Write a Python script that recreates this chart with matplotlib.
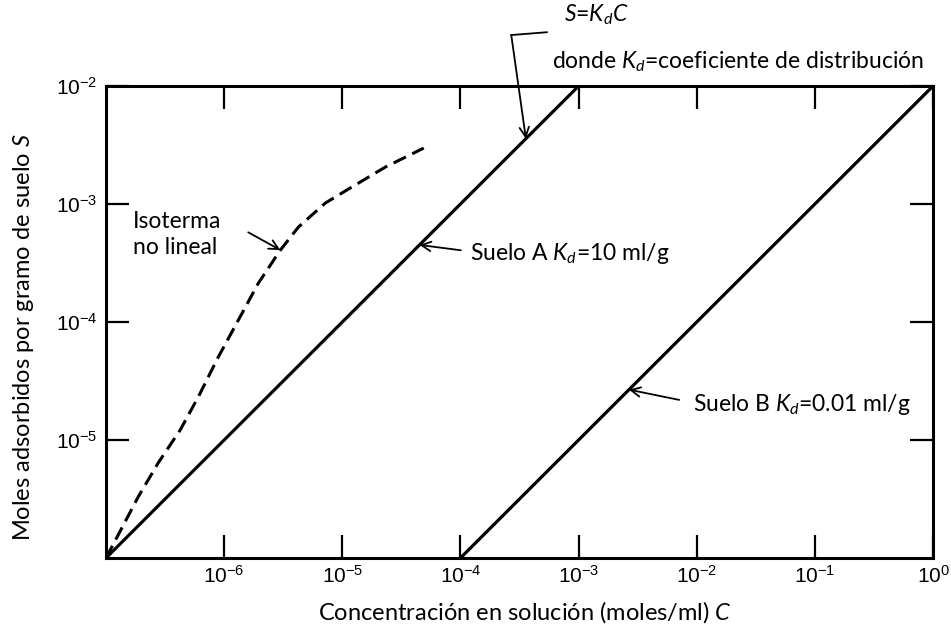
import numpy as np
import matplotlib
matplotlib.use('Agg')
import matplotlib.pyplot as plt

plt.rcParams['font.family'] = ['Lato', 'DejaVu Sans']
plt.rcParams['mathtext.fontset'] = 'custom'
plt.rcParams['mathtext.rm'] = 'Liberation Sans'
plt.rcParams['mathtext.it'] = 'Lato:italic'

# Isotermas lineales S = Kd * C
kd_a = 10.0      # ml/g
kd_b = 0.01      # ml/g
c_a = [1e-7, 1e-3]
c_b = [1e-4, 1e0]

# Isoterma no lineal
c_nl = [1.0e-7, 1.87e-7, 2.76e-7, 4.25e-7, 6.03e-7, 8.91e-7, 1.32e-6, 1.95e-6,
        2.99e-6, 4.25e-6, 7.19e-6, 1.20e-5, 2.32e-5, 4.89e-5]
s_nl = [1.0e-6, 3.29e-6, 6.38e-6, 1.22e-5, 2.31e-5, 5.05e-5, 1.04e-4, 2.14e-4,
        4.07e-4, 6.38e-4, 1.02e-3, 1.39e-3, 2.06e-3, 2.98e-3]

x_ticks = [1e-6, 1e-5, 1e-4, 1e-3, 1e-2, 1e-1, 1e0]
x_labels = ['$10^{-6}$', '$10^{-5}$', '$10^{-4}$', '$10^{-3}$', '$10^{-2}$', '$10^{-1}$', '$10^{0}$']
y_ticks = [1e-5, 1e-4, 1e-3, 1e-2]
y_labels = ['$10^{-5}$', '$10^{-4}$', '$10^{-3}$', '$10^{-2}$']

fig = plt.figure(figsize=(9.51, 6.33), dpi=100, facecolor='w')
ax = fig.add_axes([0.1115, 0.1185, 0.8696, 0.7456])

ax.plot(c_a, kd_a * np.array(c_a), color='k', lw=2.3, solid_capstyle='butt')
ax.plot(c_b, kd_b * np.array(c_b), color='k', lw=2.3, solid_capstyle='butt')
ax.plot(c_nl, s_nl, color='k', lw=2.2, dashes=(4.5, 2.3))

ax.set_xscale('log')
ax.set_yscale('log')
ax.set_xlim(1e-7, 1e0)
ax.set_ylim(1e-6, 1e-2)

ax.set_xticks(x_ticks)
ax.set_xticklabels(x_labels)
ax.set_yticks(y_ticks)
ax.set_yticklabels(y_labels)
ax.minorticks_off()
ax.tick_params(axis='both', direction='in', top=True, right=True, width=1.6,
               length=16.5, labelsize=15, color='k')
ax.tick_params(axis='x', pad=5)
ax.tick_params(axis='y', pad=6)
for sp in ax.spines.values():
    sp.set_linewidth(2.2)

ax.set_xlabel('Concentración en solución (moles/ml) $C$', fontsize=17)
ax.set_ylabel('Moles adsorbidos por gramo de suelo $S$', fontsize=17)
ax.xaxis.set_label_coords(0.506, -0.088)
ax.yaxis.set_label_coords(-0.085, 0.468)

arr = dict(arrowstyle='->', color='k', lw=1.3, shrinkA=0, shrinkB=0,
           mutation_scale=17)
fs = 16.5

ax.text(0.033, 0.685, 'Isoterma\nno lineal', transform=ax.transAxes,
        fontsize=fs, va='center', ha='left', linespacing=1.3)
ax.annotate('', xy=(2.99e-6, 4.07e-4), xytext=(0.172, 0.690),
            textcoords='axes fraction', arrowprops=arr)

ax.text(0.440, 0.646, 'Suelo A $K_d$=10 ml/g', transform=ax.transAxes,
        fontsize=fs, va='center', ha='left')
ax.annotate('', xy=(4.5e-5, 4.5e-4), xytext=(0.429, 0.652),
            textcoords='axes fraction', arrowprops=arr)

ax.text(0.710, 0.326, 'Suelo B $K_d$=0.01 ml/g', transform=ax.transAxes,
        fontsize=fs, va='center', ha='left')
ax.annotate('', xy=(2.67e-3, 2.67e-5), xytext=(0.693, 0.335),
            textcoords='axes fraction', arrowprops=arr)

ax.text(0.554, 1.151, '$S$=$K_dC$', transform=ax.transAxes,
        fontsize=fs, va='center', ha='left')
ax.text(0.539, 1.051, 'donde $K_d$=coeficiente de distribución',
        transform=ax.transAxes, fontsize=fs, va='center', ha='left')
ax.plot([0.533, 0.490], [1.114, 1.108], color='k', lw=1.3,
        transform=ax.transAxes, clip_on=False)
ax.annotate('', xy=(3.58e-4, 3.58e-3), xytext=(0.490, 1.108),
            textcoords='axes fraction', arrowprops=arr, annotation_clip=False)

fig.savefig('out.png', dpi=100)
